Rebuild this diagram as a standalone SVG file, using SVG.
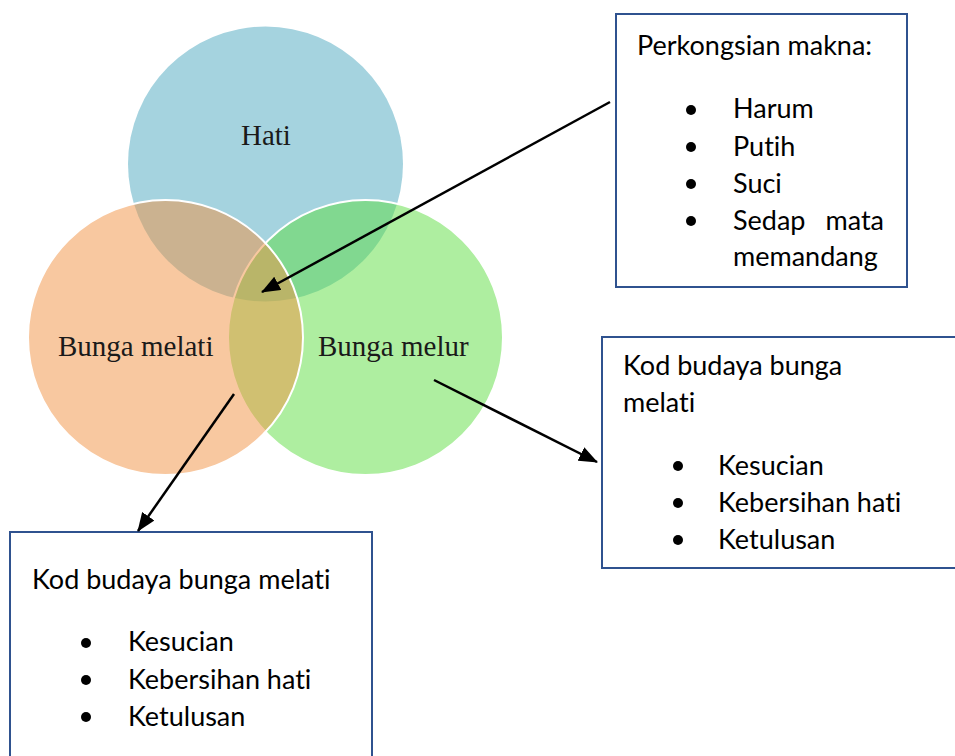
<svg xmlns="http://www.w3.org/2000/svg" width="955" height="756" viewBox="0 0 955 756">
<style>
.lbl{font-family:"Liberation Serif","Times New Roman",serif;font-size:29px;fill:#1a1a1a}
.txt{font-family:Lato,"Liberation Sans",sans-serif;font-size:27px;fill:#000;font-variant-ligatures:none;font-feature-settings:"liga" 0,"dlig" 0}
.box{fill:#fff;stroke:#2F528F;stroke-width:2}
.conn{stroke:#000;stroke-width:2.5;fill:none}
.dot{fill:#000}
</style>
<defs>
<marker id="ah" viewBox="0 0 19 15" refX="18" refY="7.5" markerWidth="19" markerHeight="15" markerUnits="userSpaceOnUse" orient="auto">
<path d="M0,0 L19,7.5 L0,15 z" fill="#000"/>
</marker>
</defs>
<rect width="955" height="756" fill="#fff"/>
<g id="circle-hati">
<circle cx="265.5" cy="164" r="137.5" fill="#A5D3DF"/>
<text class="lbl" x="241" y="145">Hati</text>
</g>
<g id="circle-melur">
<circle cx="365.5" cy="337.5" r="137.5" fill="rgb(93,221,65)" fill-opacity="0.5" stroke="#fff" stroke-width="2"/>
</g>
<g id="circle-melati">
<circle cx="165.5" cy="337.5" r="137.5" fill="rgb(241,145,65)" fill-opacity="0.5" stroke="#fff" stroke-width="2"/>
</g>
<text class="lbl" x="58" y="356">Bunga melati</text>
<text class="lbl" x="318" y="356">Bunga melur</text>
<g id="box-makna">
<rect class="box" x="616" y="14" width="291" height="273"/>
<text class="txt" x="637" y="55">Perkongsian makna:</text>
<circle class="dot" cx="691" cy="110" r="5"/>
<text class="txt" x="733" y="118">Harum</text>
<circle class="dot" cx="691" cy="147" r="5"/>
<text class="txt" x="733" y="156">Putih</text>
<circle class="dot" cx="691" cy="184" r="5"/>
<text class="txt" x="733" y="193">Suci</text>
<circle class="dot" cx="691" cy="221" r="5"/>
<text class="txt" x="733" y="230">Sedap</text>
<text class="txt" x="884" y="230" text-anchor="end">mata</text>
<text class="txt" x="733" y="266">memandang</text>
</g>
<g id="box-budaya-kanan">
<rect class="box" x="602" y="337" width="360" height="231"/>
<text class="txt" x="623" y="375">Kod budaya bunga</text>
<text class="txt" x="623" y="412">melati</text>
<circle class="dot" cx="678" cy="466" r="5"/>
<text class="txt" x="718" y="475">Kesucian</text>
<circle class="dot" cx="678" cy="503" r="5"/>
<text class="txt" x="718" y="512">Kebersihan hati</text>
<circle class="dot" cx="678" cy="540" r="5"/>
<text class="txt" x="718" y="549">Ketulusan</text>
</g>
<g id="box-budaya-kiri">
<rect class="box" x="10" y="532" width="362" height="240"/>
<text class="txt" x="32" y="589">Kod budaya bunga melati</text>
<circle class="dot" cx="86" cy="643" r="5"/>
<text class="txt" x="128" y="651">Kesucian</text>
<circle class="dot" cx="86" cy="680" r="5"/>
<text class="txt" x="128" y="689">Kebersihan hati</text>
<circle class="dot" cx="86" cy="717" r="5"/>
<text class="txt" x="128" y="726">Ketulusan</text>
</g>
<g id="connectors">
<line class="conn" x1="610" y1="102" x2="262" y2="292" marker-end="url(#ah)"/>
<line class="conn" x1="434" y1="380" x2="597" y2="462" marker-end="url(#ah)"/>
<line class="conn" x1="234" y1="394" x2="138" y2="531" marker-end="url(#ah)"/>
</g>
</svg>
